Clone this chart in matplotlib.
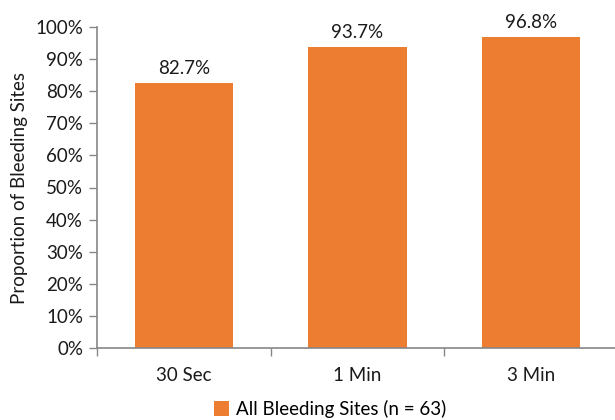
import matplotlib.pyplot as plt
import numpy as np

categories = ['30 Sec', '1 Min', '3 Min']
values = [82.7, 93.7, 96.8]
series_name = 'All Bleeding Sites (n = 63)'

plt.rcParams['font.family'] = ['Lato', 'DejaVu Sans']
fs = 13.5

fig = plt.figure(figsize=(6.15, 4.2), dpi=100)
ax = fig.add_axes([97 / 615, 72 / 420, 521 / 615, 321 / 420])

x = np.arange(len(categories))
bars = ax.bar(x, values, width=0.565, color='#ED7D31', label=series_name, zorder=2)
for b, v in zip(bars, values):
    ax.text(b.get_x() + b.get_width() / 2, v + 1.8, f'{v:.1f}%', ha='center', va='bottom',
            fontsize=fs, color='#1a1a1a')

ax.set_xlim(-0.5, len(categories) - 0.5)
ax.set_ylim(0, 100)
ax.set_yticks(np.arange(0, 101, 10))
ax.set_yticklabels([f'{t}%' for t in range(0, 101, 10)])
ax.set_xticks(x)
ax.set_xticklabels(categories)
ax.set_xticks(np.arange(-0.5, len(categories) - 0.4, 1), minor=True)
ax.tick_params(axis='x', which='major', length=0, pad=14, labelsize=fs, labelcolor='#1a1a1a')
ax.tick_params(axis='x', which='minor', length=6, width=1, color='#868686', direction='out')
ax.tick_params(axis='y', length=6, width=1, color='#868686', labelsize=fs, labelcolor='#1a1a1a', pad=4)

for s in ['top', 'right']:
    ax.spines[s].set_visible(False)
for s in ['left', 'bottom']:
    ax.spines[s].set_color('#868686')
    ax.spines[s].set_linewidth(1.2)

ax.set_ylabel('Proportion of Bleeding Sites', fontsize=fs, color='#1a1a1a', labelpad=5)

fig.legend(loc='center', bbox_to_anchor=(330 / 615, 11 / 420), frameon=False, fontsize=fs,
           handlelength=0.8, handleheight=0.8, handletextpad=0.4)

fig.savefig('out.png', dpi=100)
